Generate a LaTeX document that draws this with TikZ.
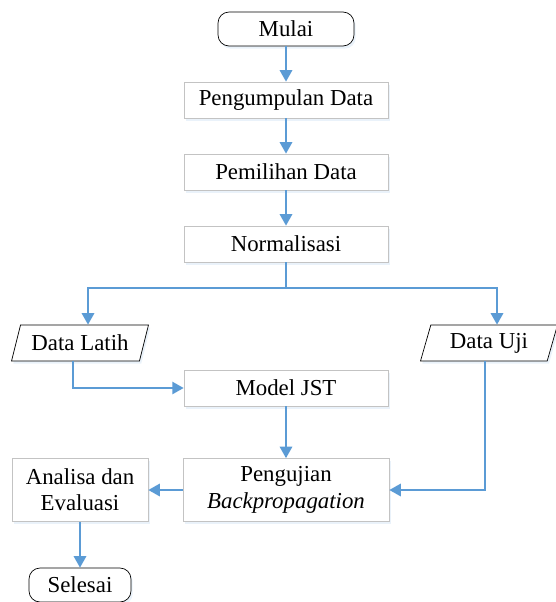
\documentclass[tikz,border=0pt]{standalone}
\usepackage{fontspec}
\setmainfont{Liberation Serif}
\usetikzlibrary{arrows.meta,shapes.geometric,shadows}
\definecolor{flowblu}{RGB}{91,155,213}
\definecolor{boxgray}{RGB}{195,195,195}

\begin{document}
\begin{tikzpicture}[x=0.02cm,y=-0.02cm,
  font=\fontsize{13}{15}\selectfont,
  softshadow/.style={drop shadow={shadow xshift=1pt,shadow yshift=-1.5pt,opacity=0.25,fill=flowblu!50}},
  term/.style={draw=black,rounded corners=0.22cm,minimum width=2.72cm,minimum height=0.68cm,fill=white,softshadow},
  proc/.style={draw=boxgray,minimum width=4.08cm,minimum height=0.72cm,fill=white,softshadow},
  io/.style={trapezium,trapezium left angle=72,trapezium right angle=108,trapezium stretches body,
    draw=black,minimum width=2.74cm,minimum height=0.72cm,fill=white,softshadow},
  flow/.style={draw=flowblu,line width=1.1pt},
  arr/.style={flow,-{Triangle[width=7pt,length=6.5pt]}}]
\useasboundingbox (0,0) rectangle (555,602);

\node[term] (mulai) at (286,29) {Mulai};
\node[proc] (kumpul) at (286,100) {Pengumpulan Data};
\node[proc] (pilih) at (286,172) {Pemilihan Data};
\node[proc] (norm) at (286,244) {Normalisasi};
\node[io] (latih) at (80,343) {Data Latih};
\node[io] (uji) at (489,343) {Data Uji};
\node[proc] (jst) at (286,388) {Model JST};
\node[proc,minimum width=4.12cm,minimum height=1.26cm,align=center] (bp) at (286,490) {Pengujian\\\textit{Backpropagation}};
\node[proc,minimum width=2.72cm,minimum height=1.26cm,align=center] (eval) at (80,490) {Analisa dan\\Evaluasi};
\node[term,minimum width=2.04cm] (selesai) at (80,585) {Selesai};

\coordinate (cabang) at (286,288);

\draw[arr] (mulai) -- (kumpul);
\draw[arr] (kumpul) -- (pilih);
\draw[arr] (pilih) -- (norm);
\draw[flow] (norm) -- (cabang);
\draw[arr] (cabang) -| ([xshift=0.16cm]latih.north);
\draw[arr] (cabang) -| ([xshift=0.16cm]uji.north);
\draw[arr] ([xshift=-0.14cm]latih.south) |- (jst);
\draw[arr] (jst) -- (bp);
\draw[arr] ([xshift=-0.08cm]uji.south) |- (bp);
\draw[arr] (bp) -- (eval);
\draw[arr] (eval) -- (selesai);
\end{tikzpicture}
\end{document}
